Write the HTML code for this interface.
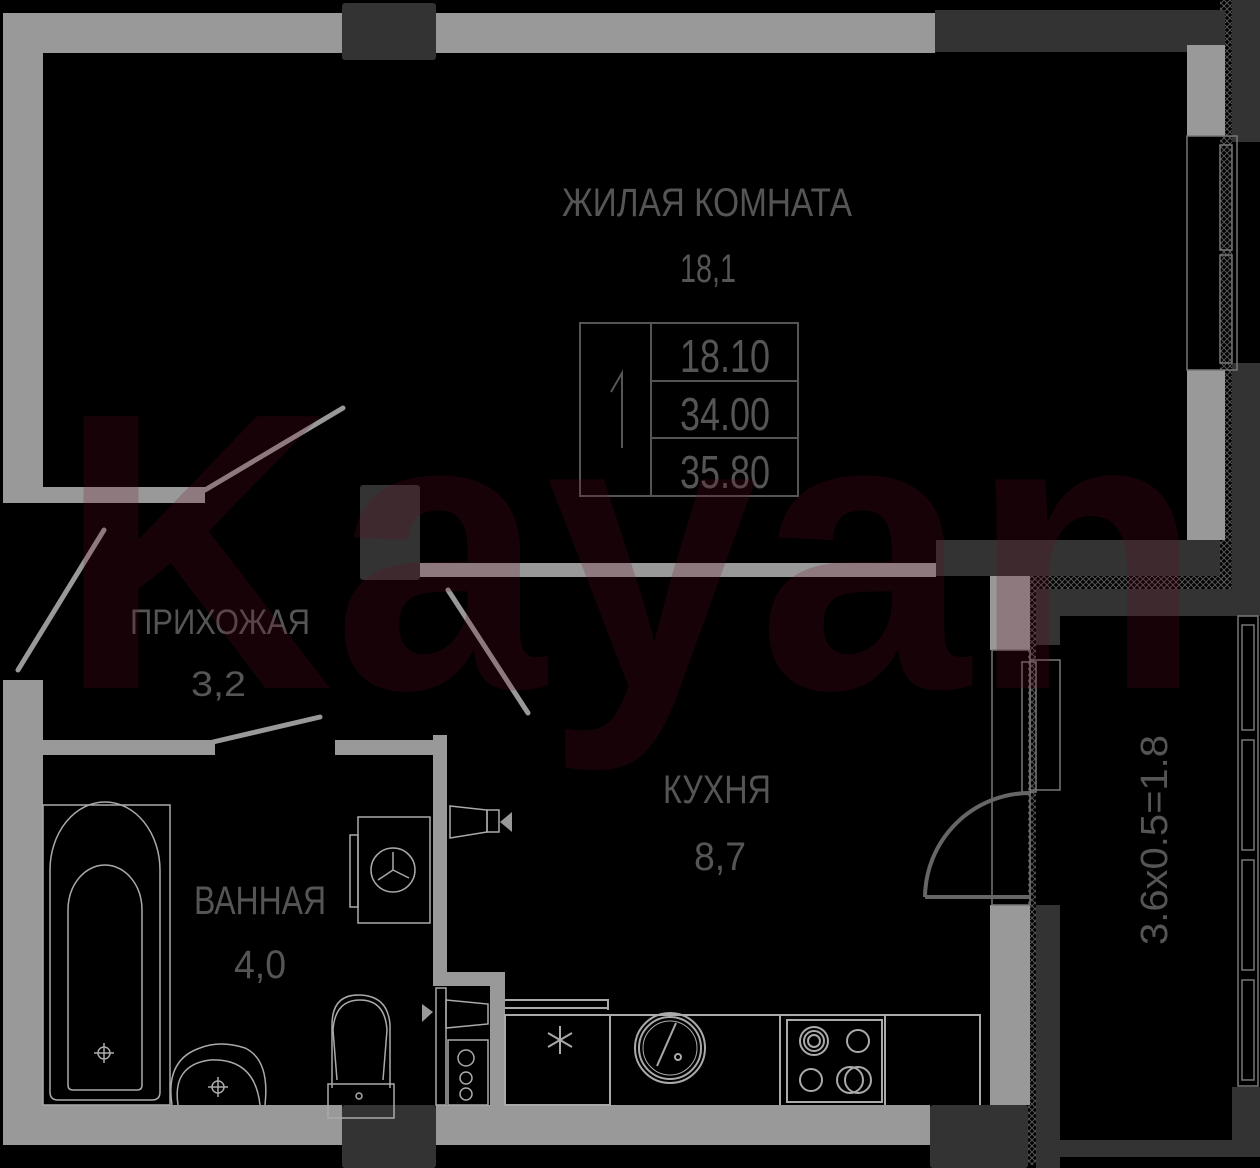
<!DOCTYPE html>
<html><head><meta charset="utf-8"><style>
html,body{margin:0;padding:0;background:#000;}
svg{display:block}
text{font-family:"Liberation Sans",sans-serif;fill:#555}
</style></head><body>
<svg width="1260" height="1168" viewBox="0 0 1260 1168" xmlns="http://www.w3.org/2000/svg">
<defs>
<pattern id="h" width="6" height="6" patternUnits="userSpaceOnUse"><path d="M0 0L6 6M6 0L0 6" stroke="#555" stroke-width="1"/></pattern>
</defs>
<rect width="1260" height="1168" fill="#000"/>
<rect x="1220" y="0" width="12" height="600" fill="url(#h)"/>
<rect x="1028" y="575" width="200" height="14" fill="url(#h)"/>
<rect x="1028" y="575" width="8" height="590" fill="url(#h)"/>
<rect x="1232" y="0" width="28" height="142" fill="#333"/>
<rect x="1232" y="363" width="28" height="235" fill="#333"/>
<rect x="935" y="10" width="290" height="42" fill="#333"/>
<rect x="342" y="3" width="94" height="57" rx="3" fill="#333"/>
<rect x="342" y="1105" width="94" height="63" rx="3" fill="#333"/>
<rect x="936" y="540" width="284" height="36" fill="#333"/>
<rect x="360" y="485" width="60" height="95" rx="3" fill="#333"/>
<rect x="1036" y="589" width="224" height="27" fill="#333"/>
<rect x="1036" y="589" width="24" height="56" fill="#333"/>
<rect x="1036" y="905" width="24" height="263" fill="#333"/>
<rect x="1036" y="1140" width="224" height="17" fill="#333"/>
<rect x="1232" y="1087" width="28" height="70" fill="#333"/>
<rect x="930" y="1105" width="98" height="63" rx="3" fill="#333"/>
<g fill="#999">
<rect x="3" y="13" width="339" height="40"/>
<rect x="436" y="13" width="499" height="40"/>
<rect x="3" y="13" width="40" height="490"/>
<rect x="3" y="487" width="202" height="16"/>
<rect x="1187" y="45" width="38" height="91"/>
<rect x="1187" y="370" width="38" height="170"/>
<rect x="420" y="563" width="516" height="14"/>
<rect x="990" y="576" width="40" height="74"/>
<rect x="990" y="905" width="40" height="200"/>
<rect x="3" y="680" width="40" height="465"/>
<rect x="43" y="740" width="172" height="15"/>
<rect x="335" y="740" width="100" height="15"/>
<rect x="433" y="735" width="14" height="250"/>
<rect x="433" y="972" width="72" height="14"/>
<rect x="490" y="972" width="15" height="133"/>
<rect x="3" y="1105" width="339" height="40"/>
<rect x="436" y="1105" width="494" height="40"/>
</g>
<g fill="none" stroke="#777" stroke-width="1.5">
<rect x="1187" y="136" width="50" height="234"/>
<rect x="1220" y="145" width="12" height="105"/><rect x="1220" y="255" width="12" height="108"/>
<rect x="1238" y="616" width="20" height="470"/>
<rect x="1242" y="625" width="12" height="105"/><rect x="1242" y="740" width="12" height="110"/><rect x="1242" y="860" width="12" height="110"/><rect x="1242" y="980" width="12" height="100"/>
<rect x="992" y="650" width="38" height="255"/>
<rect x="1030" y="660" width="30" height="130"/>
<rect x="1022" y="662" width="14" height="130"/>
</g>
<g stroke="#999" stroke-width="5" stroke-linecap="round" fill="none">
<line x1="205" y1="490" x2="343" y2="408"/>
<line x1="104" y1="530" x2="18" y2="670"/>
<line x1="213" y1="742" x2="320" y2="717"/>
<line x1="448" y1="590" x2="528" y2="713"/>
</g>
<path d="M925 897 A105 105 0 0 1 1030 793" stroke="#666" stroke-width="4" fill="none"/>
<line x1="925" y1="897" x2="1030" y2="897" stroke="#666" stroke-width="4"/>
<g fill="none" stroke="#aaa" stroke-width="1.5">
<rect x="43" y="805" width="127" height="300"/>
<path d="M50 1092 V870 A55 68 0 0 1 160 870 V1092 Q160 1100 152 1100 H58 Q50 1100 50 1092Z"/>
<path d="M68 1085 V910 A37 45 0 0 1 142 910 V1085 Q142 1090 137 1090 H73 Q68 1090 68 1085Z"/>
<circle cx="104" cy="1053" r="6"/><path d="M104 1043v20M94 1053h20"/>
<path d="M172 1105 Q165 1060 200 1048 Q220 1040 245 1048 Q270 1060 265 1105"/>
<path d="M178 1105 Q172 1065 210 1060 Q255 1058 260 1105"/>
<circle cx="218" cy="1087" r="6"/><path d="M218 1077v20M208 1087h20"/>
<path d="M332 1088 V1025 Q332 995 358 995 Q388 995 390 1025 V1088"/>
<path d="M337 1080 L333 1030 Q335 1000 360 1000 Q385 1000 387 1030 L383 1080"/>
<rect x="328" y="1084" width="66" height="34"/><circle cx="359" cy="1096" r="3"/>
<rect x="358" y="817" width="72" height="106"/>
<rect x="350" y="835" width="8" height="72"/>
<circle cx="393" cy="870" r="22"/><path d="M393 870 L393 852 M393 870 L378 880 M393 870 L409 878"/>
<path d="M450 806 L487 810 L487 832 L450 838Z"/><rect x="487" y="810" width="12" height="22"/>
<path d="M446 1000 L488 1004 L488 1024 L446 1028Z"/>
<rect x="448" y="1040" width="40" height="65"/>
<circle cx="466" cy="1058" r="8"/><circle cx="466" cy="1078" r="6"/><circle cx="466" cy="1094" r="6"/>
<rect x="436" y="988" width="10" height="117"/>
</g>
<polygon points="500,822 512,812 512,832" fill="#999"/>
<polygon points="433,1012 422,1004 422,1022" fill="#999"/>
<g fill="none" stroke="#aaa" stroke-width="2">
<path d="M505 1000 H608 V1010 M505 1008 H608"/>
<rect x="505" y="1015" width="105" height="90"/>
<path d="M610 1015 H980 V1105 M780 1015 V1105 M885 1015 V1105"/>
<rect x="787" y="1020" width="95" height="82"/>
<circle cx="670" cy="1048" r="35"/><circle cx="670" cy="1048" r="31"/><circle cx="670" cy="1048" r="27" stroke-width="1"/>
<line x1="676" y1="1023" x2="657" y2="1066"/><circle cx="678" cy="1057" r="3"/>
<circle cx="814" cy="1041" r="14"/><circle cx="814" cy="1041" r="10"/><circle cx="814" cy="1041" r="6"/>
<circle cx="858" cy="1041" r="11"/><circle cx="811" cy="1080" r="11"/>
<circle cx="850" cy="1080" r="13"/><circle cx="858" cy="1080" r="13"/>
<path d="M560 1026v28M548 1033l24 14M548 1047l24-14" stroke-width="2"/>
</g>
<text x="562" y="216" font-size="40" textLength="290" lengthAdjust="spacingAndGlyphs">ЖИЛАЯ КОМНАТА</text>
<text x="680" y="282" font-size="40" textLength="56" lengthAdjust="spacingAndGlyphs">18,1</text>
<text x="130" y="634" font-size="35" textLength="180" lengthAdjust="spacingAndGlyphs">ПРИХОЖАЯ</text>
<text x="191" y="696" font-size="35" textLength="55" lengthAdjust="spacingAndGlyphs">3,2</text>
<text x="194" y="914" font-size="40" textLength="132" lengthAdjust="spacingAndGlyphs">ВАННАЯ</text>
<text x="234" y="978" font-size="40" textLength="52" lengthAdjust="spacingAndGlyphs">4,0</text>
<text x="663" y="803" font-size="40" textLength="108" lengthAdjust="spacingAndGlyphs">КУХНЯ</text>
<text x="694" y="870" font-size="40" textLength="52" lengthAdjust="spacingAndGlyphs">8,7</text>
<text transform="translate(1167,945) rotate(-90)" font-size="38" textLength="210" lengthAdjust="spacingAndGlyphs">3.6x0.5=1.8</text>
<g fill="none" stroke="#555" stroke-width="2">
<rect x="580" y="323" width="218" height="173"/>
<line x1="651" y1="323" x2="651" y2="496"/>
<line x1="651" y1="381" x2="798" y2="381"/><line x1="651" y1="438" x2="798" y2="438"/>
<path d="M611 392 L622 373 V448"/>
</g>
<text x="680" y="372" font-size="46" textLength="90" lengthAdjust="spacingAndGlyphs">18.10</text>
<text x="680" y="430" font-size="46" textLength="90" lengthAdjust="spacingAndGlyphs">34.00</text>
<text x="680" y="488" font-size="46" textLength="90" lengthAdjust="spacingAndGlyphs">35.80</text>
<text x="58" y="688" font-family="Liberation Sans,sans-serif" font-weight="bold" font-size="395" style="fill:#6a0c1e;fill-opacity:0.22" textLength="1145" lengthAdjust="spacingAndGlyphs">Kayan</text>
</svg>
</body></html>
